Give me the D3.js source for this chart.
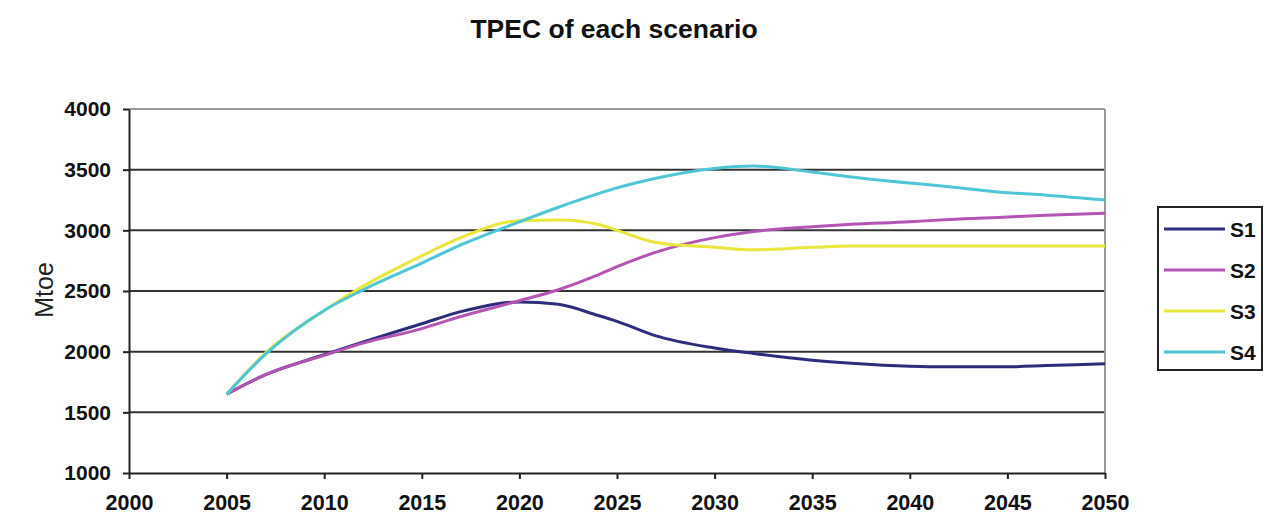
<!DOCTYPE html>
<html>
<head>
<meta charset="utf-8">
<script src="https://cdn.jsdelivr.net/npm/d3@7"></script>
<style>
  body { margin: 0; background: #fff; }
  svg { font-family: "Liberation Sans", Arial, sans-serif; }
</style>
</head>
<body>
<script>
let years = [2005, 2007, 2010, 2012, 2015, 2017, 2020, 2022, 2024, 2025, 2027, 2030, 2032, 2035, 2037, 2040, 2042, 2045, 2047, 2050];

let s1 = [1650, 1810, 1975, 2080, 2230, 2330, 2410, 2390, 2300, 2250, 2130, 2030, 1985, 1930, 1905, 1880, 1875, 1875, 1885, 1900];
let s2 = [1650, 1810, 1970, 2070, 2190, 2290, 2420, 2510, 2630, 2700, 2820, 2940, 2990, 3030, 3050, 3070, 3090, 3110, 3125, 3140];
let s3 = [1650, 1990, 2340, 2540, 2790, 2940, 3080, 3085, 3050, 3000, 2900, 2860, 2840, 2860, 2870, 2870, 2870, 2870, 2870, 2870];
let s4 = [1650, 1980, 2340, 2510, 2730, 2880, 3070, 3190, 3300, 3350, 3430, 3510, 3530, 3480, 3440, 3390, 3360, 3310, 3290, 3250];

let seriesNames = ["S1", "S2", "S3", "S4"];
let colors = ["#2e2d7c", "#b455b4", "#e9e63c", "#4fc6d6"];
let xTicks = [2000, 2005, 2010, 2015, 2020, 2025, 2030, 2035, 2040, 2045, 2050];
let yTicks = [1000, 1500, 2000, 2500, 3000, 3500, 4000];

let w = 1264, h = 515;
let padL = 129, padR = 1105, padT = 109, padB = 473;

let svg = d3.select("body").append("svg").attr("width", w).attr("height", h);

let xScale = d3.scaleLinear().domain([2000, 2050]).range([padL, padR]);
let yScale = d3.scaleLinear().domain([1000, 4000]).range([padB, padT]);

// title
svg.append("text")
  .attr("x", 614).attr("y", 38)
  .attr("text-anchor", "middle")
  .style("font-weight", "bold").style("font-size", "26.5px")
  .attr("fill", "#111")
  .text("TPEC of each scenario");

// y label
svg.append("text")
  .attr("transform", "translate(53,290) rotate(-90)")
  .attr("text-anchor", "middle")
  .style("font-size", "25px")
  .attr("fill", "#222")
  .text("Mtoe");

// grid lines
svg.append("g").selectAll("line")
  .data(yTicks.slice(1))
  .enter().append("line")
  .attr("x1", padL).attr("x2", padR)
  .attr("y1", d => yScale(d)).attr("y2", d => yScale(d))
  .attr("stroke", d => d == 4000 ? "#9a9a9a" : "#333")
  .attr("stroke-width", 2);

// right border
svg.append("line")
  .attr("x1", padR).attr("x2", padR)
  .attr("y1", padT).attr("y2", padB)
  .attr("stroke", "#9a9a9a").attr("stroke-width", 2);

let xAxis = d3.axisBottom(xScale).tickValues(xTicks).tickFormat(d3.format("d")).tickSize(6).tickSizeOuter(0);
let yAxis = d3.axisLeft(yScale).tickValues(yTicks).tickFormat(d3.format("d")).tickSize(6).tickSizeOuter(0);

let gx = svg.append("g")
  .attr("transform", "translate(0," + padB + ")")
  .call(xAxis);
gx.selectAll("text").style("font-size", "21.5px").style("font-weight", "bold").attr("y", 17).attr("dy", "0.95em").attr("fill", "#111");

let gy = svg.append("g")
  .attr("transform", "translate(" + padL + ",0)")
  .call(yAxis);
gy.selectAll("text").style("font-size", "21px").style("font-weight", "bold").attr("x", -18).attr("fill", "#111");

svg.selectAll(".domain, .tick line").attr("stroke", "#222").attr("stroke-width", 2);

// lines
let allSeries = [s1, s2, s3, s4];
let line = d3.line()
  .x((d, i) => xScale(years[i]))
  .y(d => yScale(d))
  .curve(d3.curveMonotoneX);

svg.append("g").selectAll("path")
  .data([0, 1, 2, 3])
  .enter().append("path")
  .attr("d", i => line(allSeries[i]))
  .attr("fill", "none")
  .attr("stroke", i => colors[i])
  .attr("stroke-width", 3);

// legend
let lg = svg.append("g");
lg.append("rect")
  .attr("x", 1158).attr("y", 207)
  .attr("width", 104).attr("height", 163)
  .attr("fill", "#fff").attr("stroke", "#222").attr("stroke-width", 2);

let legend = lg.selectAll(".legend")
  .data(seriesNames)
  .enter().append("g")
  .attr("class", "legend")
  .attr("transform", (d, i) => "translate(0," + (229 + i * 41) + ")");

legend.append("line")
  .attr("x1", 1164).attr("x2", 1225)
  .attr("stroke", (d, i) => colors[i])
  .attr("stroke-width", 3);

legend.append("text")
  .attr("x", 1230).attr("y", 0)
  .attr("dy", ".36em")
  .style("font-size", "21px").style("font-weight", "bold")
  .attr("fill", "#111")
  .text(d => d);
</script>
</body>
</html>
